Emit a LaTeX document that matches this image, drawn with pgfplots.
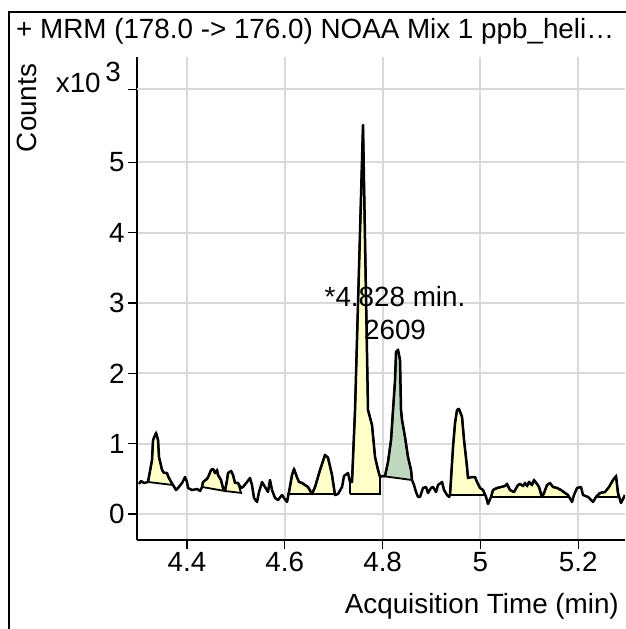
\documentclass[border=0pt]{standalone}
\usepackage{fontspec}
\setmainfont{Liberation Sans}
\usepackage{pgfplots}
\pgfplotsset{compat=1.18}
\definecolor{pkyellow}{RGB}{255,255,200}
\definecolor{pkgreen}{RGB}{190,215,190}
\definecolor{gridgray}{RGB}{217,217,217}
\newcommand{\bigf}{\fontsize{27.8}{32}\selectfont}
\begin{document}
\begin{tikzpicture}
\useasboundingbox (0pt,0pt) rectangle (625pt,629pt);
\draw[line width=1.5pt] (9pt,0pt) -- (9pt,617pt) -- (626pt,617pt);
\node[anchor=base west,inner sep=0pt] at (16pt,590pt) {\bigf + MRM (178.0 -> 176.0) NOAA Mix 1 ppb\_heli…};
\node[rotate=90,anchor=base,inner sep=0pt] at (36pt,521pt) {\bigf Counts};
\node[anchor=base east,inner sep=0pt] at (121pt,536pt) {\bigf x10\,\raisebox{11pt}{3}};
\node[anchor=base east,inner sep=0pt] at (619pt,15pt) {\bigf Acquisition Time (min)};
\begin{axis}[
  at={(137pt,89pt)}, anchor=south west,
  scale only axis, width=488pt, height=483pt,
  xmin=4.2977, xmax=5.2957, ymin=-0.3696, ymax=6.497,
  axis x line=bottom, axis y line=left,
  x axis line style={-}, y axis line style={-},
  axis line style={line width=1.2pt},
  xtick={4.4,4.6,4.8,5.0,5.2}, xticklabels={4.4,4.6,4.8,5,5.2},
  ytick={0,1,2,3,4,5}, yticklabels={0,1,2,3,4,5},
  extra y ticks={6.04}, extra y tick labels={},
  extra tick style={grid=major},
  grid=major,
  major grid style={line width=2pt, gridgray},
  tick align=outside, major tick length=9pt,
  tick style={line width=1.2pt, black},
  ticklabel style={font=\bigf},
  clip=true,
]
% peak areas
\addplot[fill=pkyellow, draw=black, line width=1.8pt] coordinates {(4.3202,0.455)(4.3284,0.768)(4.3305,1.052)(4.3366,1.152)(4.3407,1.052)(4.3427,0.810)(4.3489,0.626)(4.3530,0.583)(4.3591,0.583)(4.3611,0.540)(4.3673,0.455)(4.3714,0.412)(4.3202,0.455)};
\addplot[fill=pkyellow, draw=black, line width=1.8pt] coordinates {(4.4307,0.384)(4.4327,0.455)(4.4409,0.498)(4.4450,0.554)(4.4491,0.626)(4.4532,0.640)(4.4573,0.583)(4.4614,0.626)(4.4634,0.554)(4.4695,0.483)(4.4736,0.370)(4.4777,0.327)(4.4307,0.384)};
\addplot[fill=pkyellow, draw=black, line width=1.8pt] coordinates {(4.4777,0.327)(4.4818,0.483)(4.4839,0.583)(4.4900,0.611)(4.4941,0.554)(4.4982,0.441)(4.5043,0.441)(4.5104,0.300)(4.4777,0.327)};
\addplot[fill=pkyellow, draw=black, line width=1.8pt] coordinates {(4.6065,0.284)(4.6086,0.313)(4.6147,0.554)(4.6188,0.640)(4.6250,0.520)(4.6290,0.455)(4.6352,0.441)(4.6413,0.412)(4.6474,0.384)(4.6556,0.284)(4.6065,0.284)};
\addplot[fill=pkyellow, draw=black, line width=1.8pt] coordinates {(4.6556,0.284)(4.6618,0.384)(4.6720,0.626)(4.6822,0.839)(4.6883,0.800)(4.6965,0.555)(4.7020,0.284)(4.6556,0.284)};
\addplot[fill=pkyellow, draw=black, line width=1.8pt] coordinates {(4.7333,0.284)(4.7333,0.455)(4.7374,0.455)(4.7436,1.479)(4.7599,5.530)(4.7701,1.479)(4.7783,1.265)(4.7845,0.810)(4.7906,0.626)(4.7947,0.526)(4.7947,0.284)(4.7333,0.284)};
\addplot[fill=pkgreen, draw=black, line width=1.8pt] coordinates {(4.7988,0.540)(4.8049,0.540)(4.8110,0.739)(4.8172,1.052)(4.8213,1.479)(4.8254,1.905)(4.8274,2.303)(4.8315,2.332)(4.8356,2.189)(4.8376,1.479)(4.8397,1.336)(4.8458,1.095)(4.8519,0.810)(4.8581,0.626)(4.8601,0.483)(4.7988,0.540)};
\addplot[fill=pkyellow, draw=black, line width=1.8pt] coordinates {(4.9378,0.270)(4.9440,0.953)(4.9481,1.294)(4.9522,1.479)(4.9562,1.493)(4.9624,1.379)(4.9665,1.052)(4.9726,0.668)(4.9746,0.512)(4.9828,0.526)(4.9890,0.526)(4.9931,0.455)(4.9992,0.370)(5.0053,0.341)(5.0100,0.270)(4.9378,0.270)};
\addplot[fill=pkyellow, draw=black, line width=1.8pt] coordinates {(5.0217,0.242)(5.0258,0.341)(5.0340,0.370)(5.0421,0.384)(5.0503,0.398)(5.0544,0.427)(5.0605,0.341)(5.0687,0.313)(5.0769,0.412)(5.0810,0.427)(5.0871,0.398)(5.0912,0.441)(5.0953,0.398)(5.0994,0.455)(5.1055,0.412)(5.1096,0.483)(5.1158,0.427)(5.1198,0.384)(5.1250,0.242)(5.0217,0.242)};
\addplot[fill=pkyellow, draw=black, line width=1.8pt] coordinates {(5.1260,0.242)(5.1301,0.299)(5.1362,0.412)(5.1423,0.441)(5.1485,0.384)(5.1567,0.370)(5.1648,0.341)(5.1730,0.299)(5.1791,0.270)(5.1810,0.242)(5.1260,0.242)};
\addplot[fill=pkyellow, draw=black, line width=1.8pt] coordinates {(5.2364,0.242)(5.2446,0.299)(5.2548,0.313)(5.2630,0.384)(5.2712,0.483)(5.2773,0.540)(5.2820,0.242)(5.2364,0.242)};
% trace
\addplot[black, line width=2.5pt, line join=round] coordinates {(4.3018,0.427)(4.3059,0.469)(4.3121,0.441)(4.3202,0.455)(4.3284,0.768)(4.3305,1.052)(4.3366,1.152)(4.3407,1.052)(4.3427,0.810)(4.3489,0.626)(4.3530,0.583)(4.3591,0.583)(4.3611,0.540)(4.3673,0.455)(4.3714,0.412)(4.3775,0.341)(4.3816,0.370)(4.3898,0.441)(4.3959,0.526)(4.4000,0.455)(4.4020,0.370)(4.4102,0.341)(4.4205,0.355)(4.4266,0.327)(4.4307,0.384)(4.4327,0.455)(4.4409,0.498)(4.4450,0.554)(4.4491,0.626)(4.4532,0.640)(4.4573,0.583)(4.4614,0.626)(4.4634,0.554)(4.4695,0.483)(4.4736,0.370)(4.4777,0.327)(4.4818,0.483)(4.4839,0.583)(4.4900,0.611)(4.4941,0.554)(4.4982,0.441)(4.5043,0.441)(4.5104,0.370)(4.5145,0.384)(4.5227,0.455)(4.5288,0.512)(4.5329,0.412)(4.5370,0.227)(4.5432,0.171)(4.5472,0.313)(4.5534,0.455)(4.5595,0.384)(4.5656,0.313)(4.5697,0.483)(4.5738,0.341)(4.5800,0.227)(4.5861,0.199)(4.5943,0.270)(4.5984,0.227)(4.6045,0.171)(4.6086,0.313)(4.6147,0.554)(4.6188,0.640)(4.6250,0.520)(4.6290,0.455)(4.6352,0.441)(4.6413,0.412)(4.6474,0.384)(4.6556,0.284)(4.6618,0.384)(4.6720,0.626)(4.6822,0.839)(4.6883,0.800)(4.6965,0.555)(4.7027,0.270)(4.7088,0.284)(4.7170,0.384)(4.7211,0.540)(4.7292,0.583)(4.7333,0.455)(4.7374,0.455)(4.7436,1.479)(4.7599,5.530)(4.7701,1.479)(4.7783,1.265)(4.7845,0.810)(4.7906,0.626)(4.7947,0.526)(4.7988,0.540)(4.8049,0.540)(4.8110,0.739)(4.8172,1.052)(4.8213,1.479)(4.8254,1.905)(4.8274,2.303)(4.8315,2.332)(4.8356,2.189)(4.8376,1.479)(4.8397,1.336)(4.8458,1.095)(4.8519,0.810)(4.8581,0.626)(4.8601,0.483)(4.8642,0.412)(4.8683,0.313)(4.8724,0.242)(4.8765,0.242)(4.8826,0.370)(4.8888,0.384)(4.8928,0.299)(4.8990,0.370)(4.9031,0.384)(4.9092,0.313)(4.9133,0.412)(4.9215,0.455)(4.9256,0.341)(4.9317,0.270)(4.9358,0.242)(4.9378,0.270)(4.9440,0.953)(4.9481,1.294)(4.9522,1.479)(4.9562,1.493)(4.9624,1.379)(4.9665,1.052)(4.9726,0.668)(4.9746,0.512)(4.9828,0.526)(4.9890,0.526)(4.9931,0.455)(4.9992,0.370)(5.0053,0.341)(5.0115,0.242)(5.0155,0.142)(5.0217,0.242)(5.0258,0.341)(5.0340,0.370)(5.0421,0.384)(5.0503,0.398)(5.0544,0.427)(5.0605,0.341)(5.0687,0.313)(5.0769,0.412)(5.0810,0.427)(5.0871,0.398)(5.0912,0.441)(5.0953,0.398)(5.0994,0.455)(5.1055,0.412)(5.1096,0.483)(5.1158,0.427)(5.1198,0.384)(5.1260,0.242)(5.1301,0.299)(5.1362,0.412)(5.1423,0.441)(5.1485,0.384)(5.1567,0.370)(5.1648,0.341)(5.1730,0.299)(5.1791,0.270)(5.1873,0.171)(5.1914,0.270)(5.1976,0.370)(5.2057,0.384)(5.2098,0.270)(5.2200,0.242)(5.2303,0.171)(5.2364,0.242)(5.2446,0.299)(5.2548,0.313)(5.2630,0.384)(5.2712,0.483)(5.2773,0.540)(5.2814,0.299)(5.2875,0.156)(5.2957,0.270)};
\node[anchor=base,inner sep=0pt] at (axis cs:4.8254,2.943) {\bigf *4.828 min.};
\node[anchor=base,inner sep=0pt] at (axis cs:4.8254,2.474) {\bigf 2609};
\end{axis}
\end{tikzpicture}
\end{document}
